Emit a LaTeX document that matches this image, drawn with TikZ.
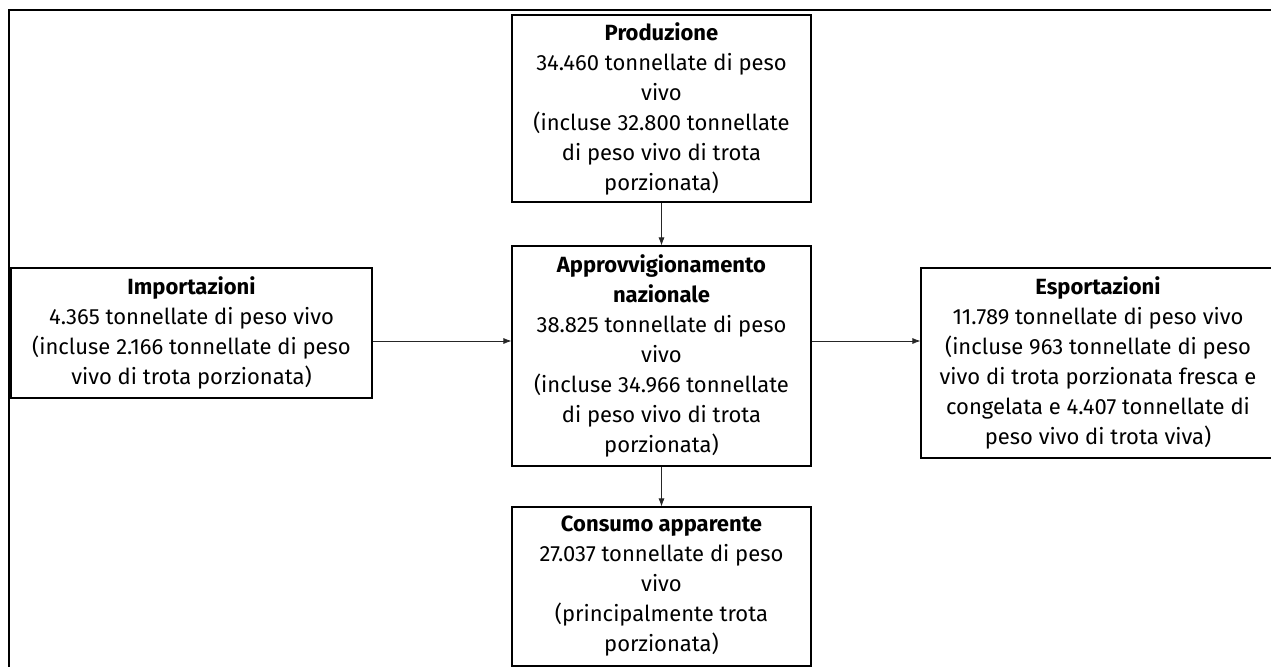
\documentclass[tikz,border=0pt]{standalone}
\usepackage{fontspec}
\setmainfont{Fira Sans}
\usepackage{tikz}
\usetikzlibrary{arrows.meta,positioning}

\begin{document}
\begin{tikzpicture}[x=0.75pt, y=-0.75pt,
	every node/.style={font=\fontsize{16.5}{22.5}\selectfont},
	flowbox/.style={draw, line width=0.8pt, align=center, inner sep=0pt},
	>={Latex[length=6pt,width=4.5pt]}]
		
		\useasboundingbox (0,0) rectangle (1271,667);
		\draw[line width=1.6pt] (9,672) -- (9,10) -- (1276,10); % frame
		
		\node[flowbox, minimum width=224.25pt, minimum height=140.25pt] (prod) at (661.5,108.5) {
			\textbf{Produzione}\\
			34.460 tonnellate di peso\\
			vivo\\
			(incluse 32.800 tonnellate\\
			di peso vivo di trota\\
			porzionata)
		};
		
		\node[flowbox, minimum width=224.25pt, minimum height=165pt] (appr) at (661.5,356) {
			\textbf{Approvvigionamento}\\
			\textbf{nazionale}\\
			38.825 tonnellate di peso\\
			vivo\\
			(incluse 34.966 tonnellate\\
			di peso vivo di trota\\
			porzionata)
		};
		
		\node[flowbox, minimum width=224.25pt, minimum height=119.25pt] (cons) at (661.5,586.5) {
			\textbf{Consumo apparente}\\
			27.037 tonnellate di peso\\
			vivo\\
			(principalmente trota\\
			porzionata)
		};
		
		\node[flowbox, minimum width=270.75pt, minimum height=97.5pt] (imp) at (191.5,333) {
			\textbf{Importazioni}\\
			4.365 tonnellate di peso vivo\\
			(incluse 2.166 tonnellate di peso\\
			vivo di trota porzionata)
		};
		
		\node[flowbox, minimum width=265.5pt, minimum height=142.5pt] (esp) at (1098,363) {
			\textbf{Esportazioni}\\
			11.789 tonnellate di peso vivo\\
			(incluse 963 tonnellate di peso\\
			vivo di trota porzionata fresca e\\
			congelata e 4.407 tonnellate di\\
			peso vivo di trota viva)
		};
		
		\coordinate (axis) at (0,341);
		
		\path[->, color=black!85, line width=0.6pt]
		(prod) edge (appr)
		(appr) edge (cons)
		(imp.east |- axis) edge (appr.west |- axis)
		(appr.east |- axis) edge (esp.west |- axis)
		;
		\end{tikzpicture}
\end{document}
